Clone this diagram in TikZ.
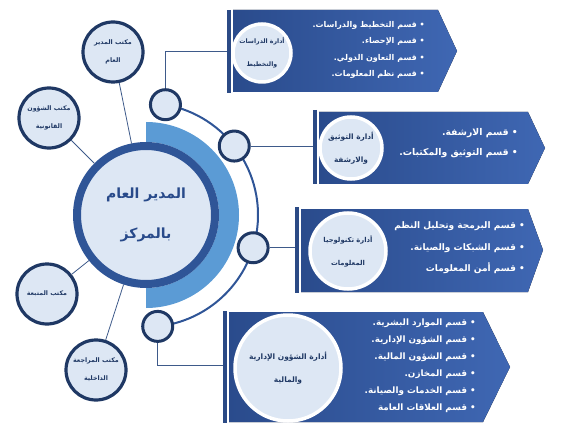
\documentclass[tikz,border=0pt]{standalone}
\usepackage{fontspec}
\newfontfamily\arabicfont[Script=Arabic]{DejaVu Sans}
\TeXXeTstate=1
\usetikzlibrary{calc}
\definecolor{navy}{HTML}{1F3864}
\definecolor{ringblue}{HTML}{2F5597}
\definecolor{textblue}{HTML}{284A8A}
\definecolor{lightfill}{HTML}{DDE7F4}
\definecolor{halfblue}{HTML}{5B9BD5}
\definecolor{bandark}{HTML}{2A4B8C}
\definecolor{banlight}{HTML}{3F67B3}
\definecolor{linegray}{HTML}{3E5A8A}
\definecolor{barblue}{HTML}{2B4A85}
\tikzset{
  office/.style={circle, draw=navy, line width=3.2pt, fill=lightfill, minimum size=60pt, inner sep=0pt, align=center, text=navy,
     font={\arabicfont\bfseries\fontsize{6.3}{18}\selectfont}},
  dot/.style={circle, draw=navy, line width=3pt, fill=lightfill, minimum size=30pt, inner sep=0pt},
  dept/.style={circle, draw=white, line width=3.5pt, fill=lightfill, inner sep=0pt, align=center, text=navy},
  items/.style={anchor=east, align=right, text=white, inner sep=0pt},
  thin/.style={draw=linegray, line width=0.8pt},
  conn/.style={draw=linegray, line width=0.9pt},
  bar/.style={draw=barblue, line width=3.5pt},
  banner/.style={left color=bandark, right color=banlight}
}
\begin{document}
\begin{tikzpicture}[x=1pt,y=-1pt]
\useasboundingbox (0,0) rectangle (569,438);
\coordinate (C) at (146,215);

% left office circles
\node[office] (lc1) at (113,52) {\beginR مكتب المدير\endR\\\beginR العام\endR};
\node[office] (lc2) at (49,118) {\beginR مكتب الشؤون\endR\\\beginR القانونية\endR};
\node[office] (lc3) at (47,294) {\beginR مكتب المتبعة\endR};
\node[office] (lc4) at (96,370) {\beginR مكتب المراجعة\endR\\\beginR الداخلية\endR};

% half ring
\fill[halfblue] (146,122) arc[start angle=-90, end angle=90, radius=93] -- (146,288) arc[start angle=90, end angle=-90, radius=73] -- cycle;

% outer thin arc
\draw[draw=ringblue, line width=2pt] ($(C)+(-80:112)$) arc[start angle=-80, end angle=84, radius=112];

% main circle
\node[circle, draw=ringblue, line width=8pt, fill=lightfill, minimum size=138pt, inner sep=0pt, align=center, text=textblue,
  font={\arabicfont\bfseries\fontsize{14}{40}\selectfont}] (main) at (C) {\beginR المدير العام\endR\\\beginR بالمركز\endR};

\draw[thin] (lc1) -- (main);
\draw[thin] (lc2) -- (main);
\draw[thin] (lc3) -- (main);
\draw[thin] (lc4) -- (main);

% banners
% B1
\draw[bar] (229,10) -- (229,93);
\fill[banner] (233,10) -- (438,10) -- (457,51) -- (438,92) -- (233,92) -- cycle;
\node[dept, minimum size=58pt, font={\arabicfont\bfseries\fontsize{6.2}{23}\selectfont}] (d1) at (262,53) {\beginR أدارة الدراسات\endR\\\beginR والتخطيط\endR};
\node[items, font={\arabicfont\bfseries\fontsize{8}{16.3}\selectfont}] (i1) at (425,50) {\beginR • قسم التخطيط والدراسات.\endR\\\beginR • قسم الإحصاء.\endR\\\beginR • قسم التعاون الدولي.\endR\\\beginR • قسم نظم المعلومات.\endR};
% B2
\draw[bar] (315,110) -- (315,184);
\fill[banner] (319,112) -- (528,112) -- (545,148) -- (528,184) -- (319,184) -- cycle;
\node[dept, minimum size=62pt, font={\arabicfont\bfseries\fontsize{7.4}{23}\selectfont}] (d2) at (351,148) {\beginR أدارة التوثيق\endR\\\beginR والارشفة\endR};
\node[items, font={\arabicfont\bfseries\fontsize{9.3}{20}\selectfont}] (i2) at (518,143) {\beginR • قسم الارشفة.\endR\\\beginR • قسم التوثيق والمكتبات.\endR};
% B3
\draw[bar] (297,207) -- (297,293);
\fill[banner] (301,209) -- (528,209) -- (543,250) -- (528,292) -- (301,292) -- cycle;
\node[dept, minimum size=76pt, font={\arabicfont\bfseries\fontsize{6.8}{23}\selectfont}] (d3) at (348,251) {\beginR أدارة تكنولوجيا\endR\\\beginR المعلومات\endR};
\node[items, font={\arabicfont\bfseries\fontsize{9}{21.5}\selectfont}] (i3) at (525,248) {\beginR • قسم البرمجة وتحليل النظم\endR\\\beginR • قسم الشبكات والصيانة.\endR\\\beginR • قسم أمن المعلومات\endR};
% B4
\draw[bar] (225,311) -- (225,423);
\fill[banner] (229,312) -- (483,312) -- (510,367) -- (483,422) -- (229,422) -- cycle;
\node[dept, minimum size=106pt, font={\arabicfont\bfseries\fontsize{7.5}{23}\selectfont}] (d4) at (288,368) {\beginR أدارة الشؤون الإدارية\endR\\\beginR والمالية\endR};
\node[items, font={\arabicfont\bfseries\fontsize{8.8}{17}\selectfont}] (i4) at (476,366) {\beginR • قسم الموارد البشرية.\endR\\\beginR • قسم الشؤون الإدارية.\endR\\\beginR • قسم الشؤون المالية.\endR\\\beginR • قسم المخازن.\endR\\\beginR • قسم الخدمات والصيانة.\endR\\\beginR • قسم العلاقات العامة\endR};

% small dots on arc
\node[dot] (sc1) at ($(C)+(-80:112)$) {};
\node[dot] (sc2) at ($(C)+(-38:112)$) {};
\node[dot] (sc3) at ($(C)+(17:112)$) {};
\node[dot] (sc4) at ($(C)+(84:112)$) {};

\coordinate (b1in) at (227,51);
\coordinate (b2in) at (313,146);
\coordinate (b3in) at (295,248);
\coordinate (b4in) at (223,365);
\draw[conn] (sc1.north) |- (b1in);
\draw[conn] (sc2.east) -- (sc2.east -| b2in);
\draw[conn] (sc3.east) -- (sc3.east -| b3in);
\draw[conn] (sc4.south) |- (b4in);
\end{tikzpicture}
\end{document}
